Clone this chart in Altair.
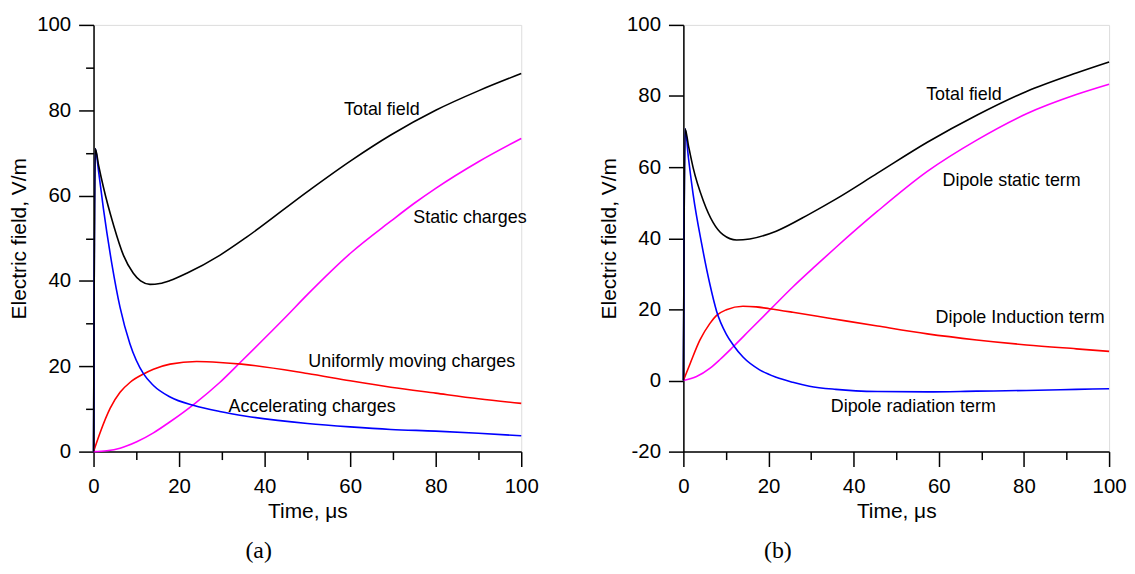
import altair as alt
import pandas as pd

# ---------------- Panel (a) ----------------
a_total_t = [0, 0.4, 1.2, 2.3, 4.7, 7.0, 9.3, 11.0, 13.2, 15.5, 17.9, 21.8, 29.5, 35.7, 50.1, 60.2, 69.5, 80, 90.1, 100]
a_total_v = [0, 71, 67, 62, 53.0, 46.0, 41.8, 40.0, 39.2, 39.4, 40.1, 41.8, 46.0, 50.2, 61.0, 68.2, 74.2, 80.0, 84.6, 88.6]

a_accel_t = [0, 0.4, 1.2, 2.3, 4.3, 6.2, 8.5, 11.7, 14, 17.9, 23.5, 29.5, 35.7, 50, 60, 69.5, 80, 90, 100]
a_accel_v = [0, 71, 65.5, 57, 43.9, 33.8, 25.3, 18.2, 15.5, 12.8, 10.8, 9.4, 8.3, 6.6, 5.8, 5.2, 4.8, 4.3, 3.7]

a_uniform_t = [0, 1.55, 3.9, 6.2, 8.5, 11.7, 14, 17.9, 24.1, 29.5, 34.6, 50, 60, 69.5, 80, 90, 100]
a_uniform_v = [0, 4.5, 10.2, 13.9, 16.2, 18.2, 19.3, 20.5, 21.1, 20.9, 20.5, 18.3, 16.6, 15.1, 13.7, 12.4, 11.3]

a_static_t = [0, 3.1, 6.2, 10.1, 14, 17.9, 23.6, 29.5, 34.4, 44.7, 50.1, 60.2, 69.5, 75, 80, 90.1, 100]
a_static_v = [0, 0.2, 0.8, 2.3, 4.4, 7.0, 11.2, 16.2, 21.0, 31.3, 36.9, 46.6, 54, 58.2, 61.7, 68, 73.4]

a_label_text = ["Total field", "Static charges", "Uniformly moving charges", "Accelerating charges"]
a_label_t = [67.4, 88.0, 74.4, 51.1]
a_label_v = [80.1, 54.7, 20.9, 10.4]

# ---------------- Panel (b) ----------------
b_total_t = [0, 0.4, 1.2, 2.3, 4.7, 7.0, 9.3, 12.5, 15.6, 21.8, 29.6, 35.8, 45.6, 57.3, 68.9, 80.6, 92.3, 100]
b_total_v = [0, 70.8, 66, 59.8, 50.5, 44.4, 41, 39.5, 39.8, 42.0, 46.8, 51.0, 58.3, 67.0, 74.6, 81.3, 86.5, 89.6]

b_rad_t = [0, 0.4, 1.2, 2.3, 4.3, 6.2, 7.8, 10.1, 11.7, 14, 17.9, 21.8, 25.7, 29.6, 35.8, 45.6, 57.3, 68.9, 80.6, 92.3, 100]
b_rad_v = [0, 70.8, 62.5, 52.3, 38.4, 27.2, 19.5, 13.0, 10.0, 6.6, 3.0, 0.9, -0.5, -1.6, -2.5, -3.1, -3.2, -3.0, -2.8, -2.5, -2.3]

b_ind_t = [0, 1.6, 3.9, 6.2, 7.8, 10.1, 14, 17.1, 20.2, 25.7, 33.9, 45.6, 57.3, 68.9, 80.6, 92.3, 100]
b_ind_v = [0, 4.8, 11.4, 16, 18.3, 19.9, 20.9, 20.7, 20.2, 19.2, 17.6, 15.3, 13.1, 11.4, 10.0, 8.9, 8.2]

b_static_t = [0, 3.1, 6.2, 8.6, 11.7, 15.6, 20.6, 25.7, 31.1, 35.8, 45.6, 57.3, 68.9, 80.6, 92.3, 100]
b_static_v = [0, 1.1, 3.4, 5.9, 9.5, 14.2, 20.2, 26.3, 32.3, 37.4, 47.6, 58.8, 67.6, 75.0, 80.4, 83.3]

b_label_text = ["Total field", "Dipole static term", "Dipole Induction term", "Dipole radiation term"]
b_label_t = [65.9, 77.1, 79.1, 54.0]
b_label_v = [80.3, 56.2, 17.6, -7.4]

series_names = ["Static", "Uniform", "Accel", "Total"]
series_colors = ["#ff00ff", "#ff0000", "#0000ff", "#000000"]

FONT = "Liberation Sans"


def long_df(pairs):
    rows = []
    for name, ts, vs in pairs:
        for t, v in zip(ts, vs):
            rows.append({"series": name, "t": t, "v": v})
    return pd.DataFrame(rows)


def axis_common():
    return dict(
        domainColor="black", domainWidth=1.5,
        tickColor="black", tickWidth=1.5,
        tickSize={"condition": {"test": "datum.value % 20 === 0", "value": 15}, "value": 8},
        labelFont=FONT, labelFontSize=20.5, labelColor="black",
        titleFont=FONT, titleFontSize=21, titleColor="black", titleFontWeight="normal",
        grid=False, labelOverlap=False, labelFlush=False,
        labelExpr="datum.value % 20 === 0 ? '' + datum.value : ''",
    )


def panel(df, labels, ydomain, yvalues, width, caption, cap_dx):
    xaxis = alt.Axis(values=list(range(0, 101, 10)), title="Time, μs",
                     labelPadding=10, titlePadding=4, **axis_common())
    yaxis = alt.Axis(values=yvalues, title="Electric field, V/m",
                     labelPadding=8, titlePadding=7, **axis_common())
    x = alt.X("t:Q", scale=alt.Scale(domain=[0, 100], nice=False, zero=False), axis=xaxis)
    y = alt.Y("v:Q", scale=alt.Scale(domain=ydomain, nice=False, zero=False), axis=yaxis)
    lines = alt.Chart(df).mark_line(strokeWidth=1.6, interpolate="monotone").encode(
        x=x, y=y,
        color=alt.Color("series:N", scale=alt.Scale(domain=series_names, range=series_colors), legend=None),
    )
    text = alt.Chart(labels).mark_text(font=FONT, fontSize=18, color="black",
                                       align="center", baseline="middle").encode(
        x=alt.X("t:Q"), y=alt.Y("v:Q"), text="label:N"
    )
    return alt.layer(lines, text).properties(
        width=width, height=429,
        title=alt.TitleParams(text=caption, orient="bottom", anchor="middle", dx=cap_dx,
                              offset=17, font="Liberation Serif", fontSize=24,
                              fontWeight="normal", color="black"),
    )


a_df = long_df([("Static", a_static_t, a_static_v), ("Uniform", a_uniform_t, a_uniform_v),
                ("Accel", a_accel_t, a_accel_v), ("Total", a_total_t, a_total_v)])
b_df = long_df([("Static", b_static_t, b_static_v), ("Uniform", b_ind_t, b_ind_v),
                ("Accel", b_rad_t, b_rad_v), ("Total", b_total_t, b_total_v)])
a_lab = pd.DataFrame({"label": a_label_text, "t": a_label_t, "v": a_label_v})
b_lab = pd.DataFrame({"label": b_label_text, "t": b_label_t, "v": b_label_v})

left = panel(a_df, a_lab, [0, 100], list(range(0, 101, 10)), 430, "(a)", -49)
right = panel(b_df, b_lab, [-20, 100], list(range(-20, 101, 10)), 428, "(b)", -119)

chart = alt.hconcat(left, right, spacing=163, bounds="flush").properties(
    padding={"left": 0, "top": 4.5, "right": 0, "bottom": 0}
).configure_view(stroke=None).configure(background="white")

chart.save("out.html", embed_options={"renderer": "svg", "actions": False})
